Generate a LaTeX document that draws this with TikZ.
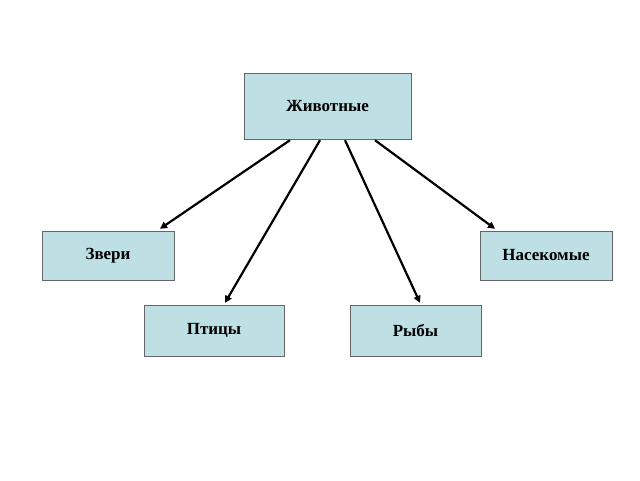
\documentclass[tikz,border=0pt]{standalone}
\usepackage{fontspec}
\setmainfont{Liberation Serif}
\usetikzlibrary{arrows.meta}
\begin{document}
\begin{tikzpicture}[x=1pt,y=-1pt,
  box/.style={draw=gray!80!black,fill={rgb,255:red,190;green,224;blue,228},inner sep=0pt,font=\fontsize{17}{20}\selectfont\bfseries},
  arr/.style={line width=2.2pt,-{Triangle[length=7pt,width=7pt]}}]
\useasboundingbox (0,0) rectangle (640,480);
\fill[white] (0,0) rectangle (640,480);
\node[box,minimum width=167pt,minimum height=66pt] (a) at (327.5,106) {Животные};
\node[box,minimum width=132pt,minimum height=49pt] (z) at (108,255.5) {Звери};
\node[box,minimum width=132pt,minimum height=49pt] (n) at (546,255.5) {Насекомые};
\node[box,minimum width=140pt,minimum height=51pt] (p) at (214,330.5) {Птицы};
\node[box,minimum width=131pt,minimum height=51pt] (r) at (415.5,330.5) {Рыбы};
\draw[arr] ([xshift=-37.5pt,yshift=-1pt]a.south) -- ([xshift=52pt,yshift=2pt]z.north);
\draw[arr] ([xshift=-7.5pt,yshift=-1pt]a.south) -- ([xshift=11pt,yshift=2pt]p.north);
\draw[arr] ([xshift=17.5pt,yshift=-1pt]a.south) -- ([xshift=4.5pt,yshift=2pt]r.north);
\draw[arr] ([xshift=47.5pt,yshift=-1pt]a.south) -- ([xshift=-51pt,yshift=2pt]n.north);
\end{tikzpicture}
\end{document}
